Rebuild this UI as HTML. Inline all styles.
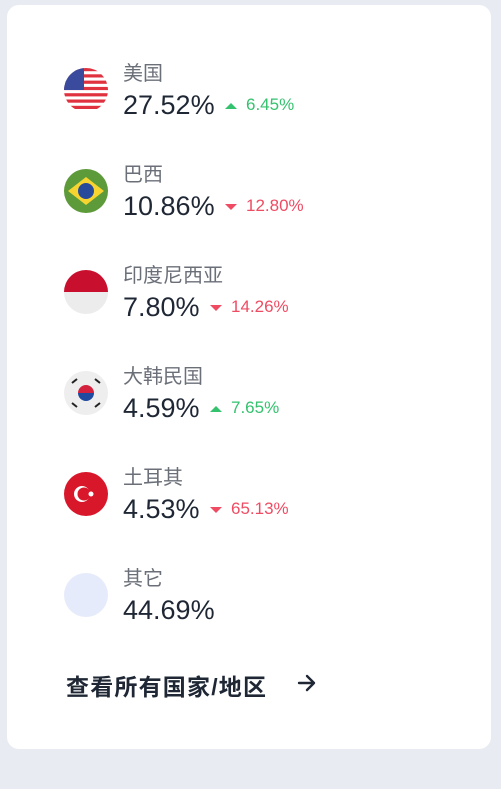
<!DOCTYPE html>
<html><head><meta charset="utf-8"><style>
body{margin:0;width:501px;height:789px;background:#e8ebf2;font-family:"Liberation Sans","Noto Sans CJK SC",sans-serif;position:relative;overflow:hidden}
.card{position:absolute;left:7px;top:5px;width:484px;height:744px;background:#fff;border-radius:12px}
.row{position:absolute;left:0;width:484px;height:90px}
.flag{position:absolute;left:57px;top:8px;width:44px;height:44px;border-radius:50%;overflow:hidden}
.name{position:absolute;left:116px;top:-3px;font-size:20px;color:#6b6f78}
.pct{position:absolute;left:116px;top:30px;font-size:27px;color:#1f2735}
.chg{position:absolute;top:35px;font-size:17px}
.up{color:#34c26e}.down{color:#ef4c63}
.tri{display:inline-block;width:0;height:0;border-left:6px solid transparent;border-right:6px solid transparent;margin-right:9px;vertical-align:middle}
.up .tri{border-bottom:6px solid #34c26e}
.down .tri{border-top:6px solid #ef4c63}
.link{position:absolute;left:66px;top:668px;font-size:23px;letter-spacing:1.2px;font-weight:bold;color:#1f2735;white-space:nowrap}
.arrow{position:absolute;left:297px;top:674px}
</style></head><body>
<div class="card"></div>
<div class="link">查看所有国家/地区</div>
<svg class="arrow" width="20" height="18" viewBox="0 0 20 18"><path d="M2 9H17M10 2L17 9L10 16" fill="none" stroke="#1f2735" stroke-width="2.4" stroke-linecap="round" stroke-linejoin="round"/></svg>
<script>
const names=["美国","巴西","印度尼西亚","大韩民国","土耳其","其它"];
const shares=["27.52%","10.86%","7.80%","4.59%","4.53%","44.69%"];
const changes=["6.45%","12.80%","14.26%","7.65%","65.13%",""];
const dirs=["up","down","down","up","down",""];
const flags=[
`<svg width="44" height="44" viewBox="0 0 44 44">${[0,1,2,3,4,5,6].map(i=>`<rect y="${i*6.3}" width="44" height="3.2" fill="#e0313f"/>`).join('')}<rect width="20" height="22" fill="#3a4a9c"/></svg>`,
`<svg width="44" height="44"><rect width="44" height="44" fill="#5c9a3a"/><polygon points="22,8 40,22 22,36 4,22" fill="#f7d430"/><circle cx="22" cy="22" r="8" fill="#284a9a"/></svg>`,
`<svg width="44" height="44"><rect width="44" height="22" fill="#c8102e"/><rect y="22" width="44" height="22" fill="#ececec"/></svg>`,
`<svg width="44" height="44"><rect width="44" height="44" fill="#eeeeee"/><path d="M14 22a8 8 0 0 1 16 0z" fill="#d4213d"/><path d="M14 22a8 8 0 0 0 16 0z" fill="#1f4aa0"/><g stroke="#222" stroke-width="2"><path d="M8 12l5-4M31 8l5 4M8 32l5 4M31 36l5-4"/></g></svg>`,
`<svg width="44" height="44"><rect width="44" height="44" fill="#d8172b"/><circle cx="18" cy="22" r="8" fill="#fff"/><circle cx="20" cy="22" r="6.5" fill="#d8172b"/><circle cx="27" cy="22" r="2.5" fill="#fff"/></svg>`,
`<svg width="44" height="44"><rect width="44" height="44" fill="#e6ebfb"/></svg>`
];
const body=document.body;
names.forEach((n,i)=>{
  const r=document.createElement('div');r.className='row';r.style.left='7px';r.style.top=(60+i*101)+'px';
  
  
  const f=document.createElement('div');f.className='flag';f.innerHTML=flags[i];
  
  
  r.appendChild(f);
  const nm=document.createElement('div');nm.className='name';nm.textContent=n;
  
  
  r.appendChild(nm);
  const p=document.createElement('div');p.className='pct';p.textContent=shares[i];
  
  
  r.appendChild(p);
  body.appendChild(r);
  if(changes[i]){
    const c=document.createElement('div');c.className='chg '+dirs[i];
    c.innerHTML='<span class="tri"></span>'+changes[i];
    
    
    r.appendChild(c);
    c.style.left=(116+p.offsetWidth+10)+'px';
  }
});
</script>
</body></html>
